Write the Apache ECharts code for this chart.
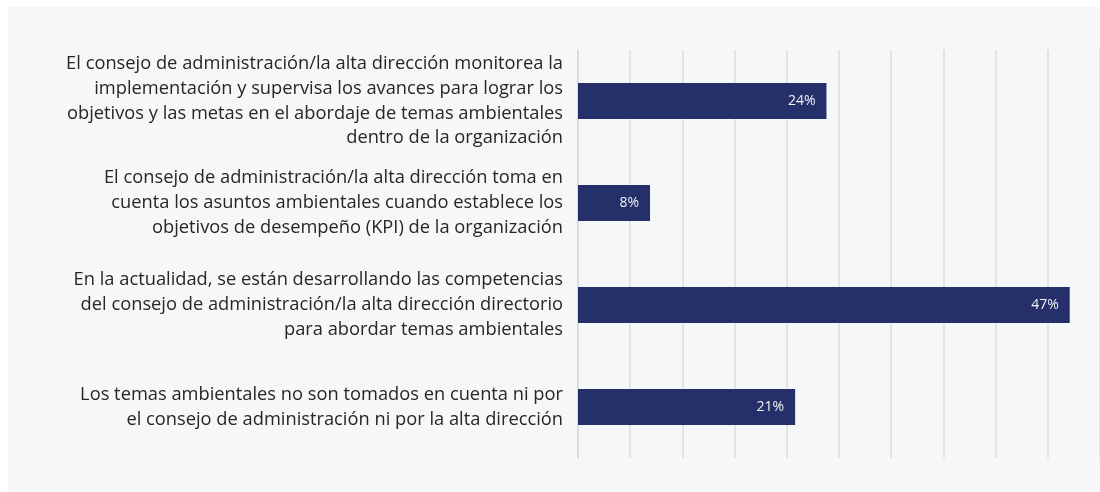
<!DOCTYPE html>
<html>
<head>
<meta charset="utf-8">
<script src="https://cdn.jsdelivr.net/npm/echarts@6/dist/echarts.min.js"></script>
<style>
  html, body { margin: 0; padding: 0; background: #ffffff; }
  #main { position: absolute; left: 8px; top: 7px; width: 1092px; height: 485px; }
</style>
</head>
<body>
<div id="main"></div>
<script>
// categorías (de arriba hacia abajo)
var categories = [
  'El consejo de administración/la alta dirección monitorea la\nimplementación y supervisa los avances para lograr los\nobjetivos y las metas en el abordaje de temas ambientales\ndentro de la organización',
  'El consejo de administración/la alta dirección toma en\ncuenta los asuntos ambientales cuando establece los\nobjetivos de desempeño (KPI) de la organización',
  'En la actualidad, se están desarrollando las competencias\ndel consejo de administración/la alta dirección directorio\npara abordar temas ambientales',
  'Los temas ambientales no son tomados en cuenta ni por\nel consejo de administración ni por la alta dirección'
]
var values = [23.8, 6.9, 47.1, 20.8]
var labels = ['24%', '8%', '47%', '21%']

var myChart = echarts.init(document.getElementById('main'))
var option = {
  backgroundColor: '#f6f7f9',
  animation: false,
  grid: {
    left: 570,
    right: -6,
    top: 43,
    bottom: 34
  },
  xAxis: {
    type: 'value',
    min: 0,
    max: 50,
    interval: 5,
    axisLabel: { show: false },
    axisLine: { show: false },
    axisTick: { show: false },
    splitLine: {
      lineStyle: { color: '#dcdcdc', width: 1.5 }
    }
  },
  yAxis: {
    type: 'category',
    inverse: true,
    data: categories,
    axisLine: {
      lineStyle: { color: '#d9d9d9', width: 1.5 }
    },
    axisTick: {
      length: 5,
      lineStyle: { color: '#d9d9d9', width: 1.5 }
    },
    axisLabel: {
      color: '#262626',
      fontFamily: 'Open Sans',
      fontSize: 18.3,
      lineHeight: 24.8,
      align: 'right',
      margin: 15
    }
  },
  series: [
    {
      type: 'bar',
      data: values,
      barWidth: 36,
      itemStyle: { color: '#25306b' },
      label: {
        show: true,
        position: 'insideRight',
        distance: 11,
        color: '#f2f2f2',
        fontFamily: 'Open Sans',
        fontSize: 14,
        formatter: function (p) { return labels[p.dataIndex] }
      }
    }
  ]
}
myChart.setOption(option)
window.addEventListener('resize', function () {
  myChart.resize()
})
</script>
</body>
</html>
